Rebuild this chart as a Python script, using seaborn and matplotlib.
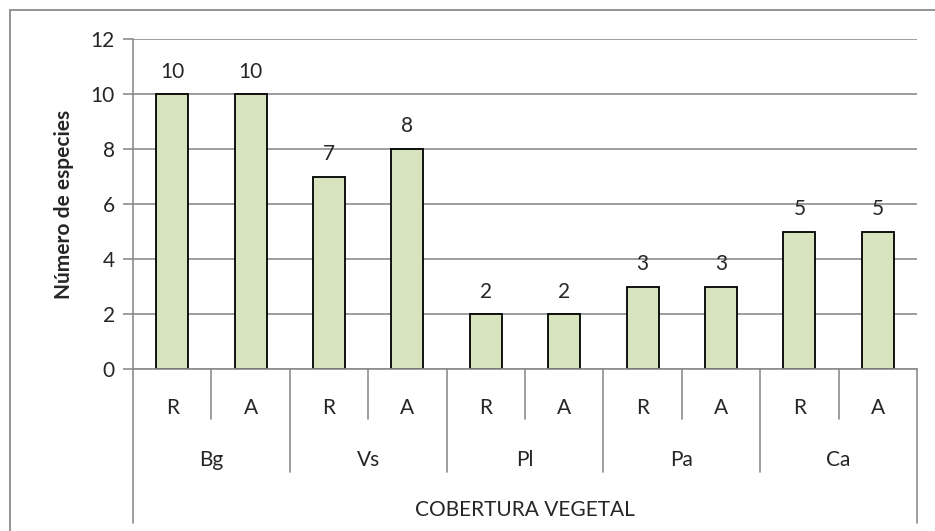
import pandas as pd
import seaborn as sns
import matplotlib.pyplot as plt
from matplotlib.lines import Line2D
import matplotlib.transforms as mtransforms

# data
groups = ["Bg", "Vs", "Pl", "Pa", "Ca"]
subgroups = ["R", "A"]
values = [10, 10, 7, 8, 2, 2, 3, 3, 5, 5]

labels = [g + "-" + s for g in groups for s in subgroups]
df = pd.DataFrame({"cat": labels, "n": values})

sns.set_style("white")
plt.rcParams['font.family'] = ['Lato', 'DejaVu Sans']
fs = 15

fig = plt.figure(figsize=(9.35, 5.31), dpi=100)
ax = fig.add_axes([133 / 935, 1 - 369 / 531, (917 - 133) / 935, (369 - 39) / 531])

sns.barplot(data=df, x="cat", y="n", order=labels, color="#D7E4BD",
            edgecolor="black", linewidth=1.3, width=0.41, saturation=1, ax=ax)

ax.set_ylim(0, 12)
ax.set_xlim(-0.5, len(labels) - 0.5)
ax.set_yticks(range(0, 13, 2))
ax.yaxis.grid(True, color="#8c8c8c", linewidth=1.2)
ax.set_axisbelow(True)
ax.tick_params(axis="y", labelsize=fs, length=7, width=1.2, color="#8c8c8c", left=True, pad=6)
ax.set_xticks([])
ax.set_xlabel("")
ax.set_ylabel("Número de especies", fontsize=fs, fontweight="bold", labelpad=12)

for side in ["top", "right"]:
    ax.spines[side].set_visible(False)
for side in ["left", "bottom"]:
    ax.spines[side].set_color("#8c8c8c")
    ax.spines[side].set_linewidth(1.2)

# value labels
for c in ax.containers:
    ax.bar_label(c, fontsize=fs, padding=9)

# multi-level category axis
trans = mtransforms.blended_transform_factory(ax.transData, ax.transAxes)
sep_kw = dict(color="#8c8c8c", linewidth=1.2, transform=trans, clip_on=False)
for i in range(len(labels) + 1):
    x = i - 0.5
    if i == 0 or i == len(labels):
        y1 = -0.467
    elif i % 2 == 0:
        y1 = -0.312
    else:
        y1 = -0.1515
    ax.add_line(Line2D([x, x], [0, y1], **sep_kw))

for i, lab in enumerate(labels):
    ax.text(i, -0.118, lab.split("-")[1], transform=trans, ha="center", va="center", fontsize=fs)
for j, g in enumerate(groups):
    ax.text(2 * j + 0.5, -0.276, g, transform=trans, ha="center", va="center", fontsize=fs)
ax.text(0.5, -0.427, "COBERTURA VEGETAL", transform=ax.transAxes, ha="center", va="center", fontsize=fs)

# chart area border (only top and left show in the crop)
fig.add_artist(Line2D([9.5 / 935, 1.0], [1 - 10 / 531, 1 - 10 / 531], color="#8c8c8c", linewidth=1.3))
fig.add_artist(Line2D([9.5 / 935, 9.5 / 935], [0.0, 1 - 10 / 531], color="#8c8c8c", linewidth=1.3))

fig.savefig("out.png", dpi=100, facecolor="white")
